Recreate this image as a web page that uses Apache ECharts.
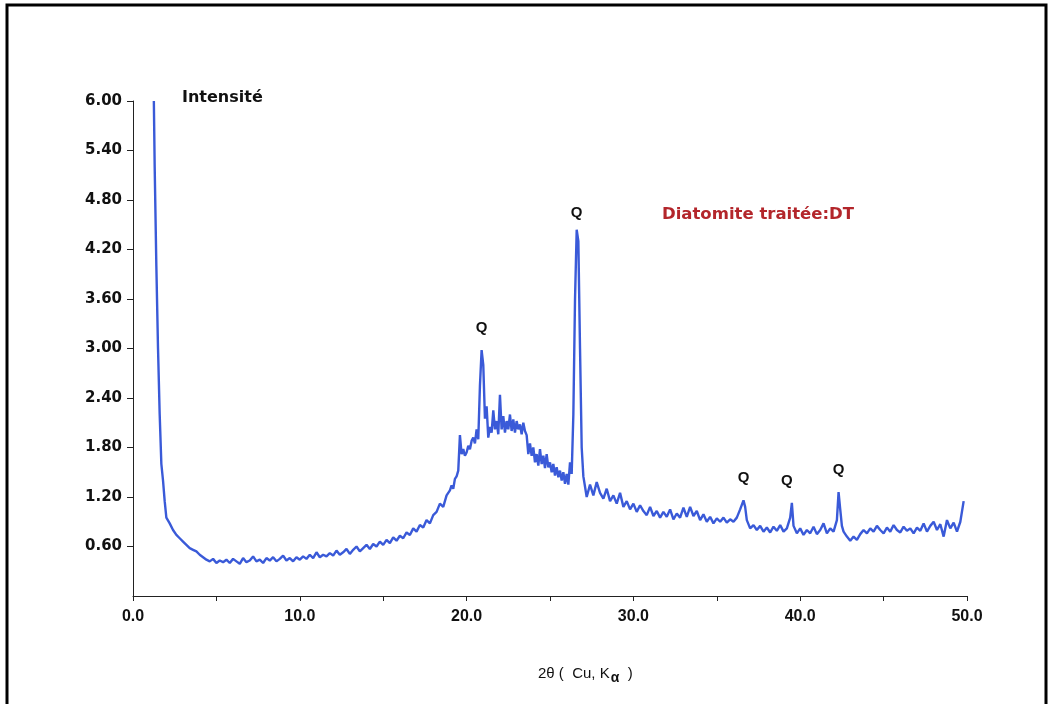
<!DOCTYPE html>
<html>
<head>
<meta charset="utf-8">
<script src="https://cdn.jsdelivr.net/npm/echarts@6/dist/echarts.min.js"></script>
<style>
html,body{margin:0;padding:0;background:#fff;}
#c{width:1052px;height:704px;}
</style>
</head>
<body>
<div id="c"></div>
<script>
// 2θ values (degrees) and intensities
var twoTheta = [
 1.25,1.3,1.4,1.5,1.6,1.7,1.8,1.9,
 2.0,2.2,2.4,2.6,2.8,3.0,3.2,3.4,3.6,3.8,4.0,
 4.2,4.4,4.6,4.8,5.0,5.2,5.4,5.6,5.8,6.0,6.2,6.4,6.6,6.8,7.0,7.2,7.4,7.6,7.8,8.0,8.2,8.4,8.6,8.8,9.0,9.2,9.4,9.6,9.8,10.0,
 10.2,10.4,10.6,10.8,11.0,11.2,11.4,11.6,11.8,12.0,12.2,12.4,12.6,12.8,13.0,13.2,13.4,13.6,13.8,14.0,
 14.2,14.4,14.6,14.8,15.0,15.2,15.4,15.6,15.8,16.0,16.2,16.4,16.6,16.8,17.0,17.2,17.4,17.6,17.8,18.0,
 18.2,18.4,18.6,18.8,
 19.0,19.1,19.2,19.3,19.4,19.5,19.6,19.7,19.8,19.9,20.0,20.1,20.2,20.3,20.4,20.5,20.6,20.7,20.8,20.9,
 21.0,21.1,21.2,21.3,21.4,21.5,21.6,21.7,21.8,21.9,22.0,22.1,22.2,22.3,22.4,22.5,22.6,22.7,22.8,22.9,
 23.0,23.1,23.2,23.3,23.4,23.5,23.6,23.7,23.8,23.9,24.0,24.1,24.2,24.3,24.4,24.5,24.6,24.7,24.8,24.9,
 25.0,25.1,25.2,25.3,25.4,25.5,25.6,25.7,25.8,25.9,26.0,26.1,26.2,26.3,
 26.4,26.5,26.6,26.7,26.8,26.9,27.0,27.2,27.4,27.6,27.8,28.0,28.2,28.4,28.6,28.8,29.0,29.2,29.4,29.6,29.8,30.0,
 30.2,30.4,30.6,30.8,31.0,31.2,31.4,31.6,31.8,32.0,32.2,32.4,32.6,32.8,33.0,33.2,33.4,33.6,33.8,34.0,34.2,34.4,34.6,34.8,35.0,35.2,35.4,35.6,35.8,36.0,
 36.2,36.4,36.6,36.7,36.8,37.0,37.2,37.4,37.6,37.8,38.0,38.2,38.4,38.6,38.8,39.0,39.2,39.4,39.5,39.6,39.8,40.0,
 40.2,40.4,40.6,40.8,41.0,41.2,41.4,41.6,41.8,42.0,42.2,42.3,42.4,42.5,42.6,42.8,43.0,43.2,43.4,43.6,43.8,44.0,
 44.2,44.4,44.6,44.8,45.0,45.2,45.4,45.6,45.8,46.0,46.2,46.4,46.6,46.8,47.0,47.2,47.4,47.6,47.8,48.0,48.2,48.4,48.6,48.8,49.0,49.2,49.4,49.6,49.8
];
var intensity = [
 6.00,5.20,4.00,3.00,2.20,1.60,1.40,1.15,
 0.95,0.88,0.80,0.74,0.70,0.66,0.62,0.58,0.56,0.54,0.50,
 0.47,0.44,0.42,0.45,0.40,0.43,0.41,0.44,0.40,0.45,0.42,0.39,0.46,0.41,0.43,0.48,0.42,0.44,0.40,0.46,0.43,0.47,0.42,0.45,0.49,0.43,0.46,0.42,0.47,0.44,
 0.48,0.45,0.50,0.46,0.53,0.47,0.50,0.48,0.52,0.49,0.55,0.50,0.53,0.57,0.51,0.56,0.60,0.54,0.58,0.62,
 0.57,0.63,0.60,0.66,0.62,0.68,0.64,0.71,0.67,0.73,0.70,0.77,0.74,0.82,0.78,0.86,0.83,0.92,0.88,0.98,
 1.02,1.12,1.08,1.22,
 1.28,1.34,1.30,1.42,1.45,1.52,1.95,1.72,1.78,1.70,1.74,1.82,1.78,1.88,1.92,1.85,2.02,1.90,2.55,2.98,
 2.80,2.15,2.30,1.92,2.05,1.98,2.25,2.02,2.12,1.96,2.44,2.02,2.18,1.98,2.12,2.02,2.20,2.00,2.14,1.98,
 2.12,2.02,2.08,1.96,2.10,2.00,1.95,1.72,1.85,1.70,1.80,1.62,1.72,1.58,1.78,1.60,1.70,1.55,1.72,1.56,
 1.62,1.50,1.60,1.46,1.56,1.44,1.52,1.40,1.50,1.36,1.48,1.35,1.62,1.48,
 2.20,3.60,4.44,4.30,3.00,1.80,1.45,1.20,1.35,1.22,1.38,1.25,1.18,1.30,1.15,1.22,1.12,1.25,1.08,1.15,1.05,1.12,
 1.02,1.10,1.03,0.98,1.08,0.97,1.03,0.95,1.02,0.96,1.05,0.93,1.00,0.95,1.07,0.96,1.08,0.97,1.03,0.92,0.99,0.90,0.96,0.88,0.94,0.90,0.95,0.89,0.93,0.90,
 0.95,1.05,1.16,1.08,0.92,0.82,0.86,0.80,0.85,0.78,0.83,0.77,0.84,0.79,0.86,0.78,0.82,0.95,1.13,0.85,0.76,0.82,
 0.74,0.80,0.76,0.84,0.75,0.80,0.88,0.76,0.82,0.78,0.92,1.26,1.05,0.85,0.78,0.72,0.67,0.72,0.68,0.75,0.80,0.76,
 0.82,0.78,0.85,0.80,0.76,0.83,0.78,0.86,0.80,0.77,0.84,0.79,0.82,0.76,0.83,0.79,0.88,0.78,0.85,0.90,0.80,0.87,0.72,0.92,0.82,0.89,0.78,0.90,1.15
];
// quartz reflections (peak position, peak intensity)
var quartzX = [20.9, 26.6, 36.6, 39.5, 42.3];
var quartzY = [2.98, 4.44, 1.16, 1.13, 1.26];
var quartzLabel = 'Q';
var yTicks = [0, 0.6, 1.2, 1.8, 2.4, 3.0, 3.6, 4.2, 4.8, 5.4, 6.0];
var xTicks = [0, 10, 20, 30, 40, 50];

var seriesData = twoTheta.map(function (x, i) { return [x, intensity[i]]; });
var marks = quartzX.map(function (x, i) {
  var m = { coord: [x, quartzY[i]] };
  if (i === 1) { m.label = { distance: 9 }; }
  if (i === 3) { m.label = { offset: [-5, 0] }; }
  return m;
});

var chart = echarts.init(document.getElementById('c'), null, { renderer: 'canvas' });
chart.setOption({
  backgroundColor: '#ffffff',
  animation: false,
  title: [
    { text: 'Intensité', left: 177, top: 85,
      textStyle: { fontFamily: 'DejaVu Sans', fontWeight: 'bold', fontSize: 16, color: '#111' } },
    { text: 'Diatomite traitée:DT', left: 657, top: 201,
      textStyle: { fontFamily: 'DejaVu Sans', fontWeight: 'bold', fontSize: 16.5, color: '#b3262b' } },
    { text: '2θ (  Cu, K{a|α}  )', left: 533, top: 657,
      textStyle: { fontFamily: 'Liberation Sans', fontWeight: 'normal', fontSize: 15, color: '#111',
        rich: { a: { fontFamily: 'Liberation Sans', fontWeight: 'bold', fontSize: 14, color: '#111', padding: [9, 0, 0, 1] } } } }
  ],
  grid: { left: 133, right: 85, top: 101, bottom: 108, containLabel: false },
  xAxis: {
    type: 'value', min: 0, max: 50, interval: 5,
    axisLine: { show: true, lineStyle: { color: '#222', width: 1 } },
    axisTick: { show: true, length: 5, lineStyle: { color: '#222' } },
    splitLine: { show: false },
    axisLabel: {
      margin: 13, color: '#111', fontFamily: 'Liberation Sans Narrow, Liberation Sans', fontWeight: 'bold', fontSize: 16,
      formatter: function (v) { return xTicks.indexOf(v) >= 0 ? v.toFixed(1) : ''; }
    }
  },
  yAxis: {
    type: 'value', min: 0, max: 6, interval: 0.6,
    axisLine: { show: true, lineStyle: { color: '#222', width: 1 } },
    axisTick: { show: true, length: 6, lineStyle: { color: '#222' } },
    splitLine: { show: false },
    axisLabel: {
      margin: 11, color: '#111', fontFamily: 'DejaVu Sans', fontWeight: 'bold', fontSize: 15,
      showMinLabel: false,
      formatter: function (v) { return v === 0 ? '' : v.toFixed(2); }
    }
  },
  series: [{
    type: 'line',
    data: seriesData,
    showSymbol: false,
    symbol: 'none',
    lineStyle: { color: '#3a5ad8', width: 2.4 },
    markPoint: {
      symbol: 'circle', symbolSize: 1,
      itemStyle: { color: 'rgba(0,0,0,0)' },
      label: { show: true, position: 'top', distance: 14, formatter: quartzLabel,
        fontFamily: 'Liberation Sans', fontWeight: 'bold', fontSize: 15, color: '#111' },
      data: marks
    }
  }],
  graphic: [{
    type: 'rect', silent: true,
    shape: { x: 7, y: 5, width: 1039, height: 710 },
    style: { fill: null, stroke: '#000', lineWidth: 3 }
  }]
});
</script>
</body>
</html>
